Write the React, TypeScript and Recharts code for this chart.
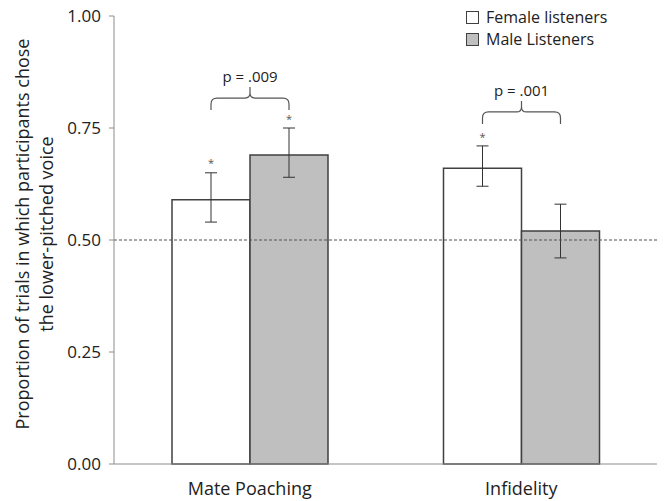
import React from "react";
import { BarChart, Bar, XAxis, YAxis, ErrorBar, ReferenceLine, Legend, Rectangle } from "recharts";

const categories = ["Mate Poaching", "Infidelity"];
const femaleValues = [0.59, 0.66];
const maleValues = [0.69, 0.52];
const femaleLower = [0.54, 0.62];
const femaleUpper = [0.65, 0.71];
const maleLower = [0.64, 0.46];
const maleUpper = [0.75, 0.58];
const femaleStar = [0.675, 0.732];
const maleStar: (number | null)[] = [0.772, null];
const bracketLevels = [0.79, 0.759];
const pLabels = ["p = .009", "p = .001"];
const yTicks = [0, 0.25, 0.5, 0.75, 1];
const boundaryTicks = [0, 1, 2];

const data = categories.map((c, i) => ({
  name: c,
  female: femaleValues[i],
  male: maleValues[i],
  femaleErr: [femaleValues[i] - femaleLower[i], femaleUpper[i] - femaleValues[i]],
  maleErr: [maleValues[i] - maleLower[i], maleUpper[i] - maleValues[i]],
  femaleStar: femaleStar[i],
  maleStar: maleStar[i],
  bracket: bracketLevels[i],
  pLabel: pLabels[i],
}));

const FONT = '"Open Sans", sans-serif';
const TEXT = "#222";

const makeShape = (key: "female" | "male") => (props: any) => {
  const { x, y, width, height, payload, fill } = props;
  const value = payload[key];
  const zero = y + height;
  const k = height / value;
  const star = payload[key + "Star"];
  const elems: any[] = [];
  elems.push(
    <Rectangle key="r" x={x} y={y} width={width} height={height} fill={fill} stroke="#404040" strokeWidth={1.5} />
  );
  if (star != null) {
    const sy = zero - star * k;
    elems.push(
      <text key="s" x={x + width / 2} y={sy + 5} textAnchor="middle" fontSize={11} fill="#555" fontFamily={FONT}>
        *
      </text>
    );
  }
  if (key === "male") {
    const x1 = x - width / 2;
    const x2 = x + width / 2;
    const xm = (x1 + x2) / 2;
    const yEnd = zero - payload.bracket * k;
    const yH = yEnd - 12;
    const yP = yH - 11;
    const r = 6;
    const d = `M ${x1} ${yEnd} L ${x1} ${yH + r} Q ${x1} ${yH} ${x1 + r} ${yH} L ${xm - 5} ${yH} Q ${xm} ${yH} ${xm} ${yH - 5} L ${xm} ${yP} M ${xm} ${yH - 5} Q ${xm} ${yH} ${xm + 5} ${yH} L ${x2 - r} ${yH} Q ${x2} ${yH} ${x2} ${yH + r} L ${x2} ${yEnd}`;
    elems.push(<path key="b" d={d} fill="none" stroke="#555" strokeWidth={1.2} />);
    elems.push(
      <text key="p" x={xm} y={yP - 5} textAnchor="middle" fontSize={15} fill={TEXT} fontFamily={FONT}>
        {payload.pLabel}
      </text>
    );
  }
  return <g>{elems}</g>;
};

const femaleShape = makeShape("female");
const maleShape = makeShape("male");

const YLabel = (props: any) => {
  const vb = props.viewBox || {};
  const cy = (vb.y ?? 16) + (vb.height ?? 448) / 2 - 6;
  const l1 = 22;
  const l2 = 46;
  return (
    <g>
      <text x={l1} y={cy} transform={`rotate(-90 ${l1} ${cy})`} textAnchor="middle" dominantBaseline="central" fontSize={18} fill={TEXT} fontFamily={FONT}>
        Proportion of trials in which participants chose
      </text>
      <text x={l2} y={cy} transform={`rotate(-90 ${l2} ${cy})`} textAnchor="middle" dominantBaseline="central" fontSize={18} fill={TEXT} fontFamily={FONT}>
        the lower-pitched voice
      </text>
    </g>
  );
};

const LegendContent = (props: any) => {
  const { payload } = props;
  return (
    <div style={{ fontFamily: FONT, fontSize: 16, color: TEXT, textAlign: "left" }}>
      {(payload || []).map((p: any, i: number) => (
        <div key={i} style={{ display: "flex", alignItems: "center", height: 22 }}>
          <span
            style={{
              display: "inline-block",
              width: 11,
              height: 11,
              border: "1px solid #404040",
              background: p.payload?.fill ?? p.color,
              marginRight: 7,
            }}
          />
          <span>{p.value}</span>
        </div>
      ))}
    </div>
  );
};

export default function App() {
  return (
    <div style={{ position: "absolute", left: 0, top: 0, background: "#fff" }}>
      <BarChart
        width={664}
        height={501}
        data={data}
        margin={{ top: 16, right: 7, left: 0, bottom: 0 }}
        barGap={0}
      >
        <XAxis
          xAxisId="num"
          type="number"
          domain={[0, 2]}
          ticks={boundaryTicks}
          height={0}
          axisLine={false}
          tick={false}
          tickSize={6}
          tickLine={{ stroke: "#8c8c8c" }}
          allowDataOverflow
        />
        <XAxis
          xAxisId="cat"
          dataKey="name"
          height={37}
          axisLine={{ stroke: "#8c8c8c" }}
          tickLine={false}
          tickSize={6}
          tickMargin={12}
          tick={{ fontSize: 18, fill: TEXT, fontFamily: FONT }}
        />
        <YAxis
          domain={[0, 1]}
          ticks={yTicks}
          width={114}
          tickFormatter={(v: number) => v.toFixed(2)}
          axisLine={{ stroke: "#8c8c8c" }}
          tickLine={{ stroke: "#8c8c8c" }}
          tickSize={5}
          tickMargin={8}
          tick={{ fontSize: 17, fill: TEXT, fontFamily: FONT }}
          label={<YLabel />}
        />
        <Legend
          layout="horizontal"
          verticalAlign="middle"
          align="center"
          content={<LegendContent />}
          wrapperStyle={{ top: 6, left: 466, right: "auto", bottom: "auto", width: 190 }}
        />
        <Bar xAxisId="cat" dataKey="female" name="Female listeners" fill="#ffffff" barSize={78} shape={femaleShape} isAnimationActive={false}>
          <ErrorBar dataKey="femaleErr" width={6} stroke="#333" strokeWidth={1} direction="y" />
        </Bar>
        <Bar xAxisId="cat" dataKey="male" name="Male Listeners" fill="#bfbfbf" barSize={78} shape={maleShape} isAnimationActive={false}>
          <ErrorBar dataKey="maleErr" width={6} stroke="#333" strokeWidth={1} direction="y" />
        </Bar>
        <ReferenceLine xAxisId="num" y={0.5} stroke="#555" strokeDasharray="3 2" strokeWidth={1.2} />
      </BarChart>
    </div>
  );
}
